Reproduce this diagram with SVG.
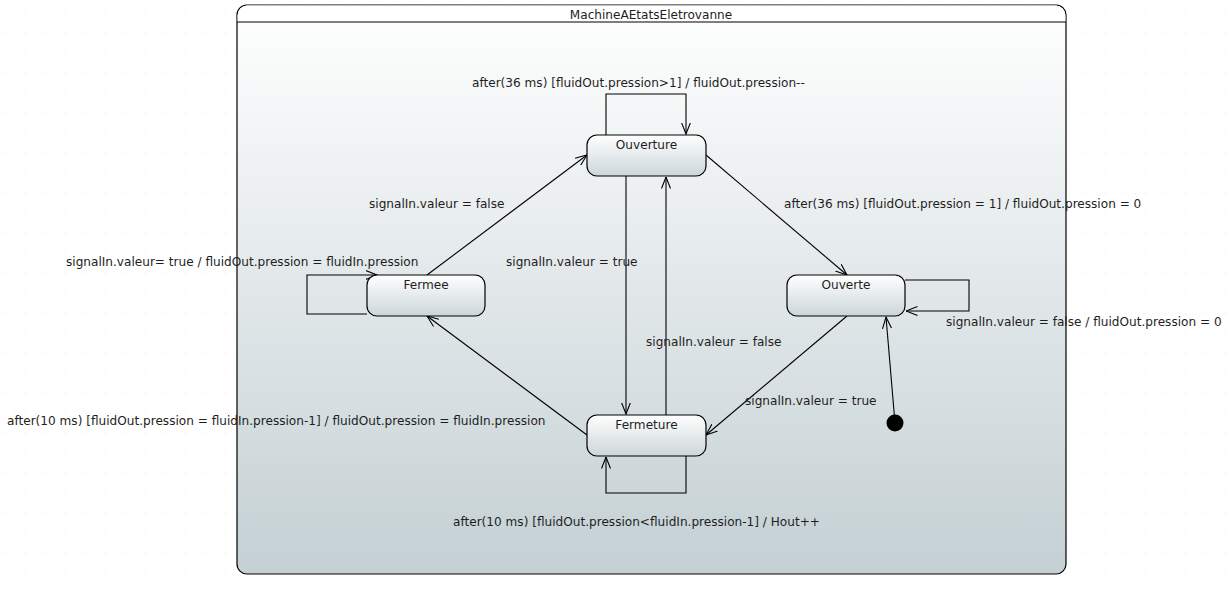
<svg xmlns="http://www.w3.org/2000/svg" width="1230" height="590" viewBox="0 0 1230 590">
<defs>
<style>
text{font-family:"DejaVu Sans","Liberation Sans",sans-serif;font-size:12.1px;fill:#1e1e1e}
.node{stroke:#000;stroke-width:1.2;fill:url(#ng)}
.c{fill:none;stroke:#000;stroke-width:1.1}
.mid{text-anchor:middle}
</style>
<pattern id="grid" width="20" height="20" patternUnits="userSpaceOnUse" x="5" y="3">
<rect x="0" y="10" width="1" height="1" fill="#e4e4e4"/>
<rect x="10" y="10" width="1" height="1" fill="#eeeeee"/>
<rect x="0" y="0" width="1" height="1" fill="#f0f0f0"/>
</pattern>
<linearGradient id="bg" x1="0" y1="0" x2="0" y2="1">
<stop offset="0" stop-color="#ffffff"/>
<stop offset="1" stop-color="#c4d0d4"/>
</linearGradient>
<linearGradient id="ng" x1="0" y1="0" x2="0" y2="1">
<stop offset="0" stop-color="#ffffff"/>
<stop offset="1" stop-color="#cbd6d9"/>
</linearGradient>
<marker id="arr" viewBox="0 0 12 10" refX="11.5" refY="5" markerWidth="12" markerHeight="10" orient="auto" markerUnits="userSpaceOnUse">
<path d="M0,0.5 L11.5,5 L0,9.5" fill="none" stroke="#000" stroke-width="1.1"/>
</marker>
</defs>
<rect width="1230" height="590" fill="#fff"/>
<rect width="1230" height="590" fill="url(#grid)"/>
<g id="container">
<rect x="237" y="5" width="829" height="569" rx="10" fill="url(#bg)" stroke="#000" stroke-width="1.2"/>
<path d="M247,5.6 H1056 A10,10 0 0 1 1065.4,15 V22 H237.6 V15 A10,10 0 0 1 247,5.6 Z" fill="#fff"/>
<line x1="237" y1="22" x2="1066" y2="22" stroke="#000" stroke-width="1.2"/>
<text x="651" y="19" class="mid">MachineAEtatsEletrovanne</text>
</g>
<g id="connectors">
<path class="c" d="M606,135 V94 H686 V134" marker-end="url(#arr)"/>
<path class="c" d="M367,314 H307 V275 H377" marker-end="url(#arr)"/>
<path class="c" d="M905,280 H969 V311 H906" marker-end="url(#arr)"/>
<path class="c" d="M686,456 V493 H606 V457" marker-end="url(#arr)"/>
<path class="c" d="M427,275 L587,155" marker-end="url(#arr)"/>
<path class="c" d="M706,155 L847,275" marker-end="url(#arr)"/>
<path class="c" d="M847,316 L706,435" marker-end="url(#arr)"/>
<path class="c" d="M587,435 L427,316" marker-end="url(#arr)"/>
<path class="c" d="M626,176 V414" marker-end="url(#arr)"/>
<path class="c" d="M666,415 V177" marker-end="url(#arr)"/>
<path class="c" d="M895,423 L886,317" marker-end="url(#arr)"/>
</g>
<g id="labels">
<text x="472" y="87">after(36 ms) [fluidOut.pression&gt;1] / fluidOut.pression--</text>
<text x="369" y="208">signalIn.valeur = false</text>
<text x="784" y="208">after(36 ms) [fluidOut.pression = 1] / fluidOut.pression = 0</text>
<text x="66" y="266">signalIn.valeur= true / fluidOut.pression = fluidIn.pression</text>
<text x="506" y="266">signalIn.valeur = true</text>
<text x="946" y="326">signalIn.valeur = false / fluidOut.pression = 0</text>
<text x="646" y="346">signalIn.valeur = false</text>
<text x="745" y="405">signalIn.valeur = true</text>
<text x="7" y="425">after(10 ms) [fluidOut.pression = fluidIn.pression-1] / fluidOut.pression = fluidIn.pression</text>
<text x="453" y="526">after(10 ms) [fluidOut.pression&lt;fluidIn.pression-1] / Hout++</text>
</g>
<g id="Ouverture">
<rect class="node" x="587" y="135" width="119" height="41" rx="10"/>
<text x="646.5" y="149" class="mid">Ouverture</text>
</g>
<g id="Fermee">
<rect class="node" x="367" y="275" width="118" height="41" rx="10"/>
<text x="426" y="289" class="mid">Fermee</text>
</g>
<g id="Ouverte">
<rect class="node" x="787" y="275" width="118" height="41" rx="10"/>
<text x="846" y="289" class="mid">Ouverte</text>
</g>
<g id="Fermeture">
<rect class="node" x="587" y="415" width="119" height="41" rx="10"/>
<text x="646.5" y="429" class="mid">Fermeture</text>
</g>
<g id="initial">
<circle cx="895" cy="423" r="8.5" fill="#000"/>
</g>
</svg>
